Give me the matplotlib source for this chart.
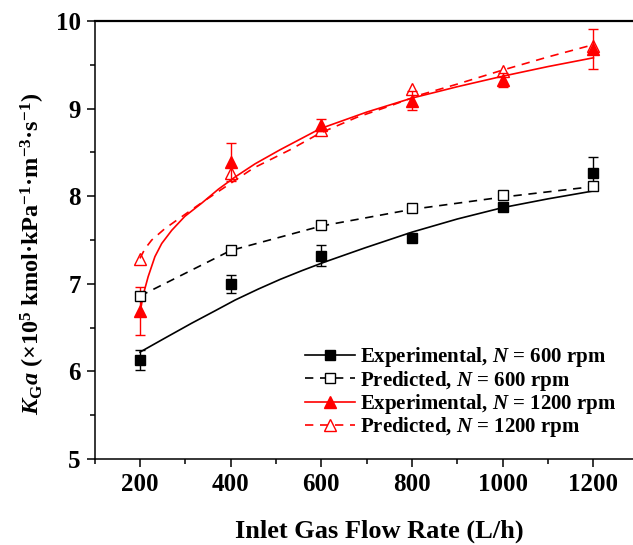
import matplotlib
matplotlib.use("Agg")
import matplotlib.pyplot as plt
from matplotlib.ticker import MultipleLocator

plt.rcParams['font.family'] = ['Liberation Serif', 'DejaVu Serif']
plt.rcParams['font.weight'] = 'bold'
plt.rcParams['mathtext.fontset'] = 'custom'
plt.rcParams['mathtext.rm'] = 'Liberation Serif:bold'
plt.rcParams['mathtext.bf'] = 'Liberation Serif:bold'
plt.rcParams['mathtext.it'] = 'Liberation Serif:italic:bold'

# ---- data ----
flow = [200, 400, 600, 800, 1000, 1200]
exp600 = [6.13, 7.00, 7.32, 7.52, 7.88, 8.26]
err600 = [0.11, 0.10, 0.12, 0.04, 0.04, 0.19]
pred600 = [6.86, 7.39, 7.67, 7.86, 8.01, 8.12]
exp1200 = [6.69, 8.39, 8.81, 9.09, 9.33, 9.68]
err1200 = [0.27, 0.22, 0.07, 0.11, 0.08, 0.23]
pred1200 = [7.28, 8.27, 8.76, 9.22, 9.43, 9.72]

# fitted curves
fit_exp600_x = [200, 255, 314, 365, 410, 461, 509, 557, 608, 652, 696, 800, 900, 1000, 1100, 1200]
fit_exp600_y = [6.22, 6.38, 6.55, 6.69, 6.815, 6.94, 7.05, 7.15, 7.25, 7.33, 7.41, 7.59, 7.74, 7.87, 7.97, 8.06]
fit_pred600_x = [200, 400, 600, 800, 1000, 1200]
fit_pred600_y = [6.86, 7.38, 7.66, 7.85, 7.99, 8.11]
fit_exp1200_x = [200, 207, 218, 233, 248, 270, 299, 336, 373, 410, 454, 509, 597, 700, 800, 900, 1000, 1100, 1200]
fit_exp1200_y = [6.66, 6.87, 7.08, 7.31, 7.46, 7.61, 7.77, 7.92, 8.08, 8.22, 8.37, 8.53, 8.77, 8.96, 9.12, 9.25, 9.37, 9.48, 9.58]
fit_pred1200_x = [200, 211, 226, 255, 285, 340, 395, 450, 531, 597, 678, 751, 820, 900, 1000, 1100, 1200]
fit_pred1200_y = [7.29, 7.40, 7.50, 7.63, 7.74, 7.94, 8.13, 8.32, 8.53, 8.72, 8.90, 9.03, 9.16, 9.28, 9.44, 9.59, 9.73]

labels = [r'Experimental, $N$ = 600 rpm', r'Predicted, $N$ = 600 rpm',
          r'Experimental, $N$ = 1200 rpm', r'Predicted, $N$ = 1200 rpm']

W, H = 633, 545
fig = plt.figure(figsize=(W / 100, H / 100), dpi=100)
ax = fig.add_axes([94.6 / W, 86 / H, (638.8 - 94.6) / W, 438 / H])

lw = 1.2
dash = (0, (5, 4))
# black experimental
ax.plot(fit_exp600_x, fit_exp600_y, color='black', lw=lw, zorder=2)
ax.errorbar(flow, exp600, yerr=err600, fmt='s', color='black', ms=7,
            capsize=3.6, elinewidth=1.0, capthick=1.0, zorder=3)
# black predicted
ax.plot(fit_pred600_x, fit_pred600_y, color='black', lw=lw, ls=dash, zorder=2)
ax.plot(flow, pred600, 's', mfc='white', mec='black', mew=1.0, ms=7, zorder=4)
# red experimental
ax.plot(fit_exp1200_x, fit_exp1200_y, color='red', lw=lw, zorder=2)
ax.errorbar(flow, exp1200, yerr=err1200, fmt='^', color='red', ms=9,
            capsize=3.6, elinewidth=1.0, capthick=1.0, zorder=3)
# red predicted
ax.plot(fit_pred1200_x, fit_pred1200_y, color='red', lw=lw, ls=dash, zorder=2)
ax.plot(flow, pred1200, '^', mfc='none', mec='red', mew=1.0, ms=9, zorder=4)

# legend proxies
h1, = ax.plot([], [], color='black', lw=lw, marker='s', ms=7)
h2, = ax.plot([], [], color='black', lw=lw, ls=dash, marker='s', ms=7, mfc='white', mew=1.0)
h3, = ax.plot([], [], color='red', lw=lw, marker='^', ms=9)
h4, = ax.plot([], [], color='red', lw=lw, ls=dash, marker='^', ms=9, mfc='white', mew=1.0)
leg = ax.legend([h1, h2, h3, h4], labels, loc='center left',
                bbox_to_anchor=(0.387, 0.152), frameon=False,
                prop={'family': 'Liberation Serif', 'weight': 'bold', 'size': 15},
                handlelength=2.4, handletextpad=0.25, labelspacing=-0.03, borderpad=0,
                borderaxespad=0)

ax.set_xlim(100, 1300)
ax.set_ylim(5, 10)
ax.xaxis.set_major_locator(MultipleLocator(200))
ax.xaxis.set_minor_locator(MultipleLocator(100))
ax.yaxis.set_major_locator(MultipleLocator(1))
ax.yaxis.set_minor_locator(MultipleLocator(0.5))
ax.tick_params(which='major', direction='out', length=6, width=1.1, labelsize=18, pad=4)
ax.tick_params(which='minor', direction='out', length=3.5, width=1.1)
for lab in ax.get_xticklabels() + ax.get_yticklabels():
    lab.set_fontweight('bold')
for s in ['left', 'bottom']:
    ax.spines[s].set_linewidth(1.1)
ax.spines['top'].set_linewidth(1.6)
ax.spines['right'].set_visible(False)

ax.set_xlabel('Inlet Gas Flow Rate (L/h)', fontsize=19, fontweight='bold')
ax.set_ylabel(r'$K_{\mathrm{G}}a$ (×10$^{5}$ kmol·kPa$^{-1}$·m$^{-3}$·s$^{-1}$)',
              fontsize=17.5, fontweight='bold')
ax.xaxis.set_label_coords(0.5235, -0.139)
ax.yaxis.set_label_coords(-0.087, 0.469)

fig.savefig('out.png', dpi=100)
